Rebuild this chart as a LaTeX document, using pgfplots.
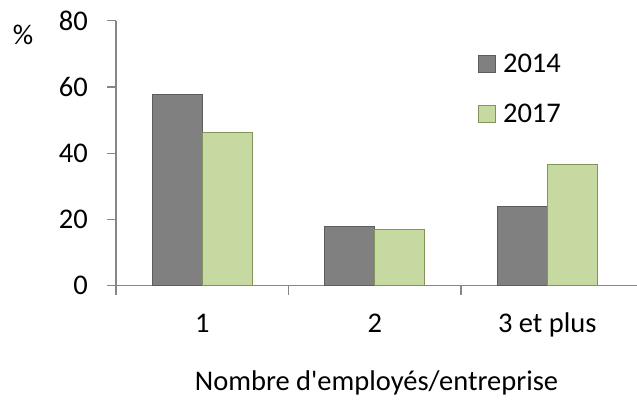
\documentclass[border=0pt]{standalone}
\usepackage{fontspec}
\setmainfont{Carlito}
\usepackage{pgfplots}
\pgfplotsset{compat=1.18}
\definecolor{bargray}{RGB}{128,128,128}
\definecolor{bargrayedge}{RGB}{92,92,92}
\definecolor{bargreen}{RGB}{198,217,160}
\definecolor{bargreenedge}{RGB}{128,148,92}
\definecolor{axgray}{RGB}{134,134,134}
\newcommand\cf{\fontsize{28.5bp}{34bp}\selectfont}
\begin{document}
\begin{tikzpicture}
\path[use as bounding box] (-116bp,-114.3bp) rectangle (521bp,285.7bp);
\begin{axis}[
  at={(0,0)}, anchor=south west, scale only axis,
  width=521bp, height=265bp,
  xmin=-0.5, xmax=2.52, ymin=0, ymax=80,
  ybar=0pt, bar width=50bp,
  axis x line*=bottom, axis y line*=left,
  axis line style={axgray, line width=1.2bp, -},
  tick align=outside, major tick length=9bp,
  tick style={axgray, line width=1.2bp},
  xtick={-0.5,0.5,1.5}, xticklabels={},
  extra x ticks={0,1,2}, extra x tick labels={1,2,3 et plus},
  extra x tick style={major tick length=0pt},
  xticklabel style={font=\cf, inner sep=0pt, anchor=base, yshift=-47bp},
  ytick={0,20,40,60,80},
  yticklabel style={font=\cf, inner sep=0pt, anchor=east, xshift=-19bp},
  /pgf/number format/assume math mode=true,
  xlabel={Nombre d\textquotesingle employés/entreprise},
  xlabel style={font=\cf, inner sep=0pt, at={(rel axis cs:0.5,0)}, anchor=base, yshift=-105bp},
  legend style={draw=none, fill=none, at={(0.695,0.88)}, anchor=north west,
    font=\cf, row sep=28bp, inner sep=0pt, nodes={inner sep=1bp},
    /tikz/every odd column/.append style={column sep=6bp}},
  legend cell align=left,
  every axis plot post/.append style={
    legend image code/.code={\draw[##1, line width=0.8bp] (0bp,-8.5bp) rectangle (17bp,8.5bp);}},
  clip=false,
]
\addplot[fill=bargray, draw=bargrayedge, line width=1bp] coordinates {(0,57.8) (1,17.8) (2,23.9)};
\addplot[fill=bargreen, draw=bargreenedge, line width=1bp] coordinates {(0,46.4) (1,17.0) (2,36.7)};
\legend{2014,2017}
\node[font=\cf, inner sep=0pt] at (rel axis cs:0,0) [xshift=-93bp, yshift=251bp] {\%};
\end{axis}
\end{tikzpicture}
\end{document}
